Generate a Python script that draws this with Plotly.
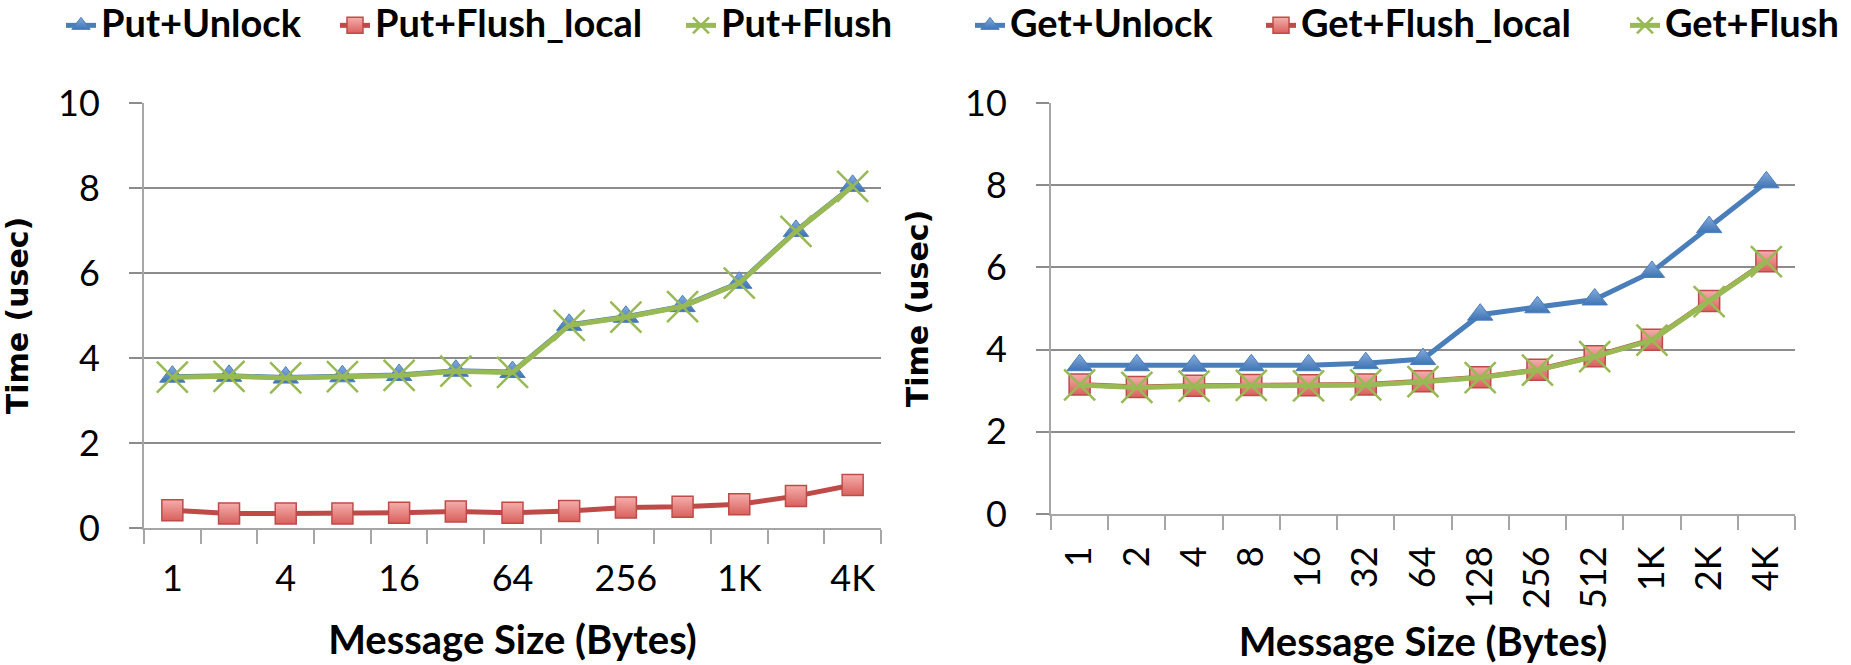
import plotly.graph_objects as go

# Message sizes (x categories) shared by both panels
sizes = ["1", "2", "4", "8", "16", "32", "64", "128", "256", "512", "1K", "2K", "4K"]
# Left panel only labels every other size
left_tick_text = ["1", "", "4", "", "16", "", "64", "", "256", "", "1K", "", "4K"]
right_tick_text = sizes

# Put latencies (usec)
put_unlock = [3.56, 3.58, 3.54, 3.57, 3.60, 3.70, 3.67, 4.78, 4.97, 5.22, 5.77, 6.99, 8.05]
put_flush_local = [0.42, 0.34, 0.34, 0.34, 0.36, 0.39, 0.36, 0.40, 0.48, 0.50, 0.56, 0.75, 1.01]
put_flush = [3.55, 3.57, 3.53, 3.56, 3.59, 3.69, 3.66, 4.77, 4.96, 5.21, 5.76, 6.98, 8.04]

# Get latencies (usec)
get_unlock = [3.62, 3.62, 3.61, 3.62, 3.62, 3.67, 3.77, 4.85, 5.03, 5.22, 5.89, 6.98, 8.07]
get_flush_local = [3.15, 3.09, 3.12, 3.14, 3.13, 3.15, 3.23, 3.33, 3.51, 3.84, 4.24, 5.18, 6.15]
get_flush = [3.14, 3.08, 3.11, 3.13, 3.12, 3.14, 3.22, 3.32, 3.50, 3.83, 4.23, 5.17, 6.14]

BLUE = "#4A7EBB"
RED = "#BE4B48"
GREEN = "#98B954"
GRID = "#8C8C8C"
AXIS = "#A6A6A6"

W, H = 1851, 665


def px_x(a, b):
    return [a / W, b / W]


def px_y(top, bottom):
    return [1 - bottom / H, 1 - top / H]


def marker_for(kind):
    if kind == "tri":
        return dict(symbol="triangle-up", size=22, color="#86ACDD",
                    gradient=dict(type="vertical", color="#3F74B5"),
                    line=dict(color="#4A7EBB", width=1))
    if kind == "sq":
        return dict(symbol="square", size=21, color="#F4AEAC",
                    gradient=dict(type="vertical", color="#D9605C"),
                    line=dict(color=RED, width=1.5))
    return dict(symbol="x-thin", size=31, color=GREEN, line=dict(color=GREEN, width=2.5))


def legend_label(text):
    # larger text than the legend's base size keeps the row tight to the top edge
    return '<span style="font-size:38px">' + text + "</span>"


def series(name, y, color, kind, xa, ya, legend):
    return go.Scatter(
        x=sizes, y=y, name=legend_label(name), mode="lines+markers",
        line=dict(color=color, width=5),
        marker=marker_for(kind), xaxis=xa, yaxis=ya, legend=legend,
    )


fig = go.Figure()
fig.add_trace(series("Put+Unlock", put_unlock, BLUE, "tri", "x", "y", "legend"))
fig.add_trace(series("Put+Flush_local", put_flush_local, RED, "sq", "x", "y", "legend2"))
fig.add_trace(series("Put+Flush", put_flush, GREEN, "x", "x", "y", "legend3"))
fig.add_trace(series("Get+Unlock", get_unlock, BLUE, "tri", "x2", "y2", "legend4"))
fig.add_trace(series("Get+Flush_local", get_flush_local, RED, "sq", "x2", "y2", "legend5"))
fig.add_trace(series("Get+Flush", get_flush, GREEN, "x", "x2", "y2", "legend6"))

tick_font = dict(family="Lato", size=36, color="black")
title_font_x = dict(family="Lato", size=40, color="black", weight="bold")
title_font_y = dict(family="DejaVu Sans", size=30, color="black", weight="bold")

common_x = dict(
    type="category", categoryorder="array", categoryarray=sizes,
    range=[-0.5, len(sizes) - 0.5],
    tickmode="array", tickvals=sizes, tickson="boundaries",
    ticks="outside", ticklen=14, tickwidth=2, tickcolor=AXIS,
    showline=True, linecolor=AXIS, linewidth=2, showgrid=False,
    tickfont=tick_font, title_font=title_font_x, zeroline=False,
    automargin=False,
)
common_y = dict(
    range=[0, 10], dtick=2, tick0=0,
    ticks="outside", ticklen=13, tickwidth=2, tickcolor=GRID,
    showline=True, linecolor=AXIS, linewidth=2,
    showgrid=True, gridcolor=GRID, gridwidth=2, zeroline=False,
    tickfont=tick_font, title_font=title_font_y, ticklabelstandoff=22,
    automargin=False,
)

legend_font = dict(family="Lato", size=29, color="black", weight="bold")


def legend_at(text_left):
    return dict(orientation="h", x=(text_left - 42) / W, y=1.0,
                xanchor="left", yanchor="top", font=legend_font,
                bgcolor="rgba(0,0,0,0)", borderwidth=0)


fig.update_layout(
    width=W, height=H,
    margin=dict(l=0, r=0, t=0, b=0),
    paper_bgcolor="white", plot_bgcolor="white",
    xaxis=dict(common_x, domain=px_x(144, 881), anchor="y", ticktext=left_tick_text,
               tickangle=0, ticklabelstandoff=18,
               title=dict(text="Message Size (Bytes)", standoff=28)),
    yaxis=dict(common_y, domain=px_y(103, 528), anchor="x",
               title=dict(text="Time (usec)", standoff=40)),
    xaxis2=dict(common_x, domain=px_x(1051, 1795), anchor="y2", ticktext=right_tick_text,
                tickangle=-90, ticklabelstandoff=16,
                title=dict(text="Message Size (Bytes)", standoff=20)),
    yaxis2=dict(common_y, domain=px_y(103, 514), anchor="x2",
                title=dict(text="Time (usec)", standoff=28)),
    legend=legend_at(103),
    legend2=legend_at(377),
    legend3=legend_at(723),
    legend4=legend_at(1012),
    legend5=legend_at(1303),
    legend6=legend_at(1667),
    showlegend=True,
)

fig.write_html("out.html")
